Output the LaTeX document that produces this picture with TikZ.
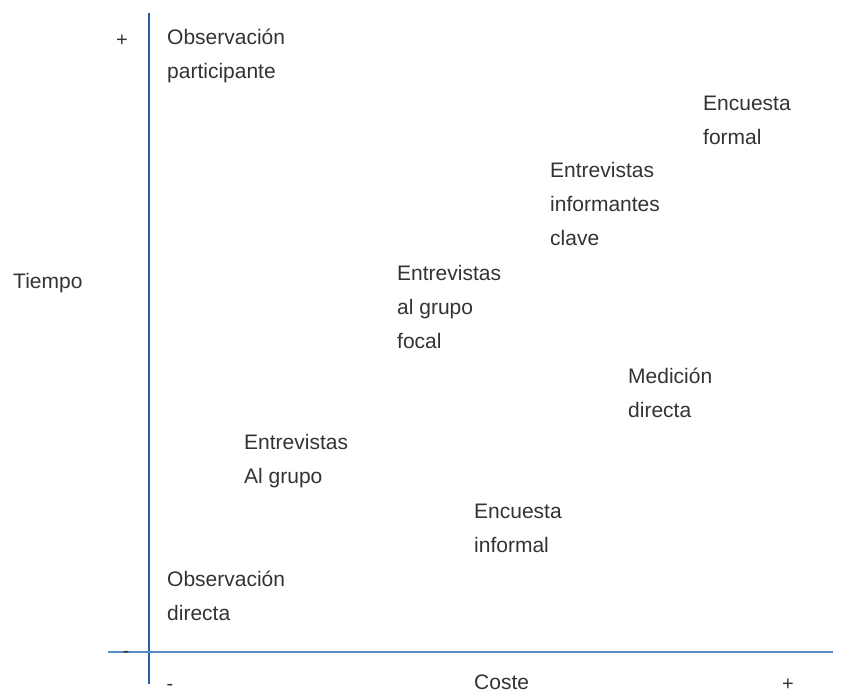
\documentclass[tikz,border=0pt]{standalone}
\usepackage{fontspec}
\setmainfont{Liberation Sans}
\definecolor{txt}{HTML}{333333}
\definecolor{axisv}{HTML}{2A5E9E}
\definecolor{axish}{HTML}{5A8CC6}
\begin{document}
\begin{tikzpicture}[x=1pt,y=-1pt,
  lbl/.style={anchor=base west,inner sep=0pt,align=left,text=txt,
    font=\fontsize{21}{34}\selectfont},
  sign/.style={anchor=base,inner sep=0pt,text=txt,font=\fontsize{20}{24}\selectfont}]
\useasboundingbox (0,0) rectangle (868,693);
\coordinate (vt) at (149,13);
\coordinate (vb) at (149,684);
\coordinate (hl) at (108,652);
\coordinate (hr) at (833,652);
\draw[axisv,line width=1.3pt] (vt) -- (vb);
\draw[axish,line width=1.3pt] (hl) -- (hr);
\node[sign] (yplus) at (122,47) {+};
\node[sign] (yminus) at (126,657) {-};
\node[sign] (xminus) at (170,690) {-};
\node[sign] (xplus) at (788,690) {+};
\node[lbl] (tiempo) at (13,288) {Tiempo};
\node[lbl] (coste) at (474,689) {Coste};
\node[lbl] (op) at (167,78) {Observación\\participante};
\node[lbl] (ef) at (703,144) {Encuesta\\formal};
\node[lbl] (eic) at (550,245) {Entrevistas\\informantes\\clave};
\node[lbl] (egf) at (397,348) {Entrevistas\\al grupo\\focal};
\node[lbl] (md) at (628,417) {Medición\\directa};
\node[lbl] (eg) at (244,483) {Entrevistas\\Al grupo};
\node[lbl] (ei) at (474,552) {Encuesta\\informal};
\node[lbl] (od) at (167,620) {Observación\\directa};
\end{tikzpicture}
\end{document}
